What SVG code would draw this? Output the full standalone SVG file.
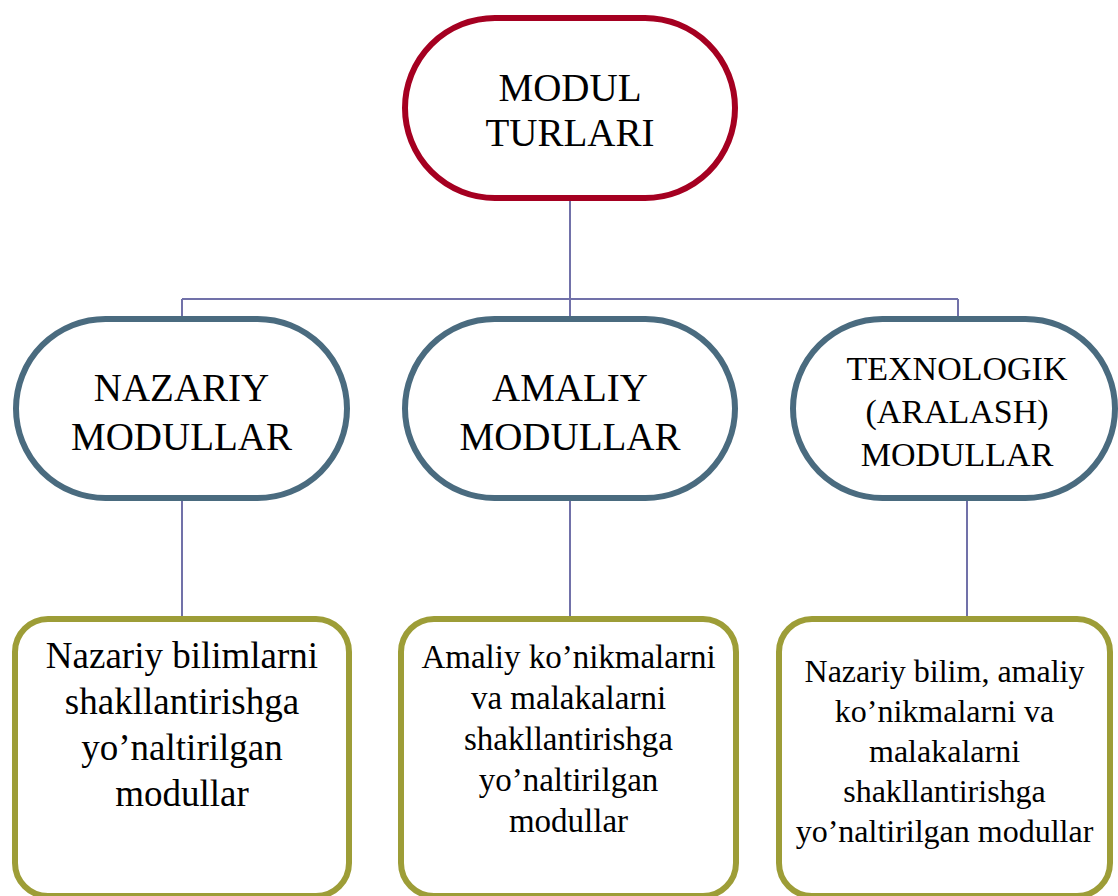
<svg xmlns="http://www.w3.org/2000/svg" width="1118" height="896" viewBox="0 0 1118 896">
  <style>
    .txt { font-family: "Liberation Serif", "Times New Roman", serif; fill: #000; text-anchor: middle; }
    .root { fill: #fff; stroke: #A50021; stroke-width: 6; }
    .kind { fill: #fff; stroke: #4A6B7F; stroke-width: 6; }
    .desc { fill: #fff; stroke: #9D9D37; stroke-width: 6; }
    .link { fill: none; stroke: #7171A9; stroke-width: 2; }
  </style>
  <rect width="1118" height="896" fill="#fff"/>

  <!-- connectors -->
  <g id="connectors">
    <path class="link" d="M570 198 V299 M182 299 H958 M182 299 V319 M570 299 V319 M958 299 V319"/>
    <path class="link" d="M182 498 V619 M570 498 V619 M967 498 V619"/>
  </g>

  <!-- root -->
  <g id="modul-turlari">
    <rect class="root" x="405" y="18" width="330" height="180" rx="90" ry="90"/>
    <text class="txt" font-size="39" x="570" y="101">MODUL</text>
    <text class="txt" font-size="39" x="570" y="146">TURLARI</text>
  </g>

  <!-- module kinds -->
  <g id="nazariy">
    <rect class="kind" x="16" y="319" width="331" height="179" rx="89.5" ry="89.5"/>
    <text class="txt" font-size="39" x="181.5" y="401">NAZARIY</text>
    <text class="txt" font-size="39" x="181.5" y="450">MODULLAR</text>
  </g>
  <g id="amaliy">
    <rect class="kind" x="405" y="319" width="330" height="179" rx="89.5" ry="89.5"/>
    <text class="txt" font-size="39" x="570" y="401">AMALIY</text>
    <text class="txt" font-size="39" x="570" y="450">MODULLAR</text>
  </g>
  <g id="texnologik">
    <rect class="kind" x="793" y="319" width="322" height="179" rx="89.5" ry="89.5"/>
    <text class="txt" font-size="34" x="957" y="380">TEXNOLOGIK</text>
    <text class="txt" font-size="34" x="957" y="423">(ARALASH)</text>
    <text class="txt" font-size="34" x="957" y="466">MODULLAR</text>
  </g>

  <!-- descriptions -->
  <g id="nazariy-desc">
    <rect class="desc" x="15" y="619" width="334" height="277" rx="33" ry="33"/>
    <text class="txt" font-size="37" x="182" y="668">Nazariy bilimlarni</text>
    <text class="txt" font-size="37" x="182" y="714">shakllantirishga</text>
    <text class="txt" font-size="37" x="182" y="760">yo’naltirilgan</text>
    <text class="txt" font-size="37" x="182" y="806">modullar</text>
  </g>
  <g id="amaliy-desc">
    <rect class="desc" x="401" y="619" width="335" height="277" rx="33" ry="33"/>
    <text class="txt" font-size="33" x="568.5" y="668">Amaliy ko’nikmalarni</text>
    <text class="txt" font-size="33" x="568.5" y="709">va malakalarni</text>
    <text class="txt" font-size="33" x="568.5" y="750">shakllantirishga</text>
    <text class="txt" font-size="33" x="568.5" y="791">yo’naltirilgan</text>
    <text class="txt" font-size="33" x="568.5" y="832">modullar</text>
  </g>
  <g id="texnologik-desc">
    <rect class="desc" x="779" y="619" width="331" height="277" rx="33" ry="33"/>
    <text class="txt" font-size="32" x="944.5" y="682">Nazariy bilim, amaliy</text>
    <text class="txt" font-size="32" x="944.5" y="722">ko’nikmalarni va</text>
    <text class="txt" font-size="32" x="944.5" y="762">malakalarni</text>
    <text class="txt" font-size="32" x="944.5" y="802">shakllantirishga</text>
    <text class="txt" font-size="32" x="944.5" y="842">yo’naltirilgan modullar</text>
  </g>
</svg>
